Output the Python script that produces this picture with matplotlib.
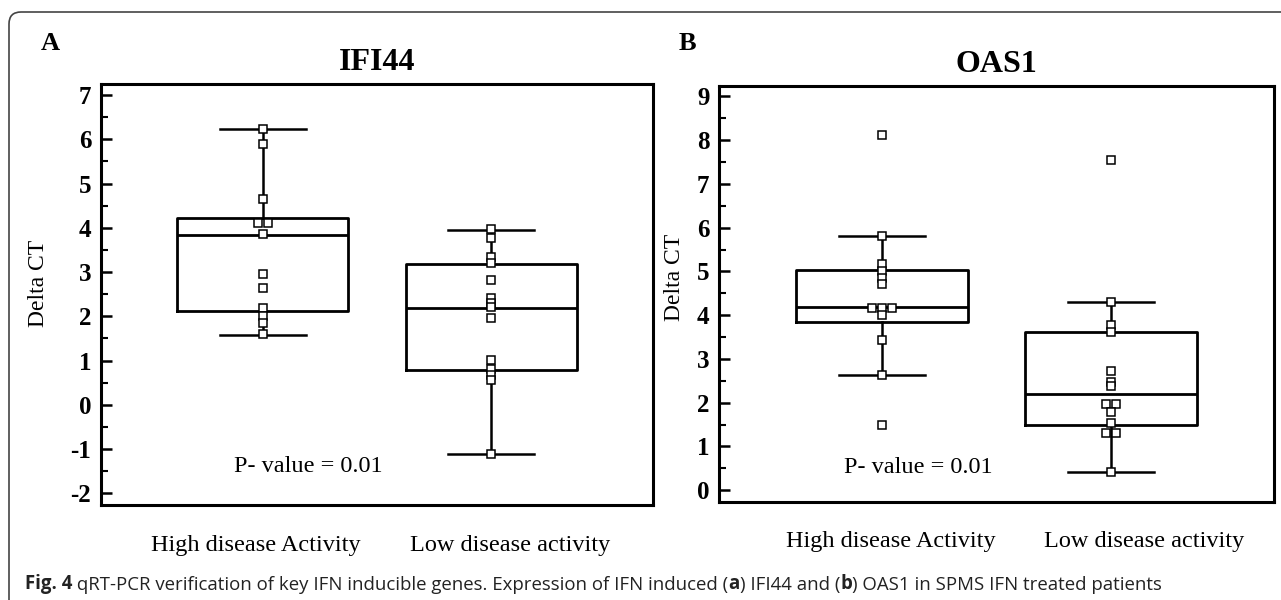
import numpy as np
import matplotlib
matplotlib.use("Agg")
import matplotlib.pyplot as plt
from matplotlib.ticker import MultipleLocator
from matplotlib.patches import FancyBboxPatch

plt.rcParams['font.family'] = ['Liberation Serif', 'DejaVu Serif']
plt.rcParams['axes.unicode_minus'] = False

# Data (Delta CT)
groups = ["High disease Activity", "Low disease activity"]

ifi44_high = [6.23, 5.90, 4.65, 4.10, 4.10, 3.87, 2.95, 2.65, 2.18, 2.00, 1.84, 1.60]
ifi44_low = [3.97, 3.77, 3.33, 3.20, 2.81, 2.42, 2.30, 2.20, 1.96, 1.02, 0.80, 0.68, 0.56, -1.12]
oas1_high = [8.13, 5.81, 5.18, 5.01, 4.86, 4.72, 4.16, 4.16, 4.16, 4.01, 3.43, 2.63, 1.49]
oas1_low = [7.54, 4.31, 3.78, 3.61, 2.73, 2.48, 2.38, 1.98, 1.98, 1.79, 1.53, 1.31, 1.31, 0.41]

# box summaries as drawn: (whislo, q1, median, q3, whishi)
ifi44_boxes = [(1.58, 2.13, 3.83, 4.22, 6.23), (-1.11, 0.79, 2.18, 3.19, 3.95)]
oas1_boxes = [(2.63, 3.85, 4.18, 5.04, 5.81), (0.41, 1.50, 2.20, 3.61, 4.31)]

p_value = "P- value = 0.01"


def spread(values, step=0.045):
    # put equal values side by side
    vals = np.asarray(values)
    offs = np.zeros(len(vals))
    for v in np.unique(vals):
        idx = np.where(vals == v)[0]
        offs[idx] = (np.arange(len(idx)) - (len(idx) - 1) / 2) * step
    return offs


def draw_panel(ax, boxes, points, title, ylim, label_x, label_y, ptext_xy, xlab_pos):
    stats = [dict(whislo=b[0], q1=b[1], med=b[2], q3=b[3], whishi=b[4], fliers=[])
             for b in boxes]
    line = dict(color='black', linewidth=2.0)
    ax.bxp(stats, positions=[1, 2], widths=0.75, showfliers=False,
           boxprops=line, whiskerprops=dict(color='black', linewidth=1.8),
           capprops=dict(color='black', linewidth=1.8), medianprops=line)
    for pos, vals in zip([1, 2], points):
        ax.plot(pos + spread(vals), vals, 's', ms=5.5, mfc='white', mec='black',
                mew=1.1, zorder=5)

    ax.set_xlim(0.29, 2.71)
    ax.set_ylim(*ylim)
    ax.set_xticks([])
    ax.yaxis.set_major_locator(MultipleLocator(1))
    ax.yaxis.set_minor_locator(MultipleLocator(0.5))
    ax.tick_params(axis='y', which='major', direction='in', length=8, width=1.8,
                   pad=7, labelsize=18)
    ax.tick_params(axis='y', which='minor', direction='in', length=5, width=1.5)
    for lab in ax.get_yticklabels():
        lab.set_fontweight('bold')
    for sp in ax.spines.values():
        sp.set_linewidth(2.2)

    ax.set_title(title, fontsize=23, fontweight='bold', pad=10)
    ax.set_ylabel("Delta CT", fontsize=17)
    ax.yaxis.set_label_coords(label_x, label_y)
    ax.text(ptext_xy[0], ptext_xy[1], p_value, fontsize=17.5, ha='center', va='center')
    for xp, g in zip(xlab_pos, groups):
        ax.text(xp, -0.095, g, fontsize=17.5, ha='center', va='center',
                transform=ax.transAxes)


fig = plt.figure(figsize=(12.81, 6.0), dpi=100)
axA = fig.add_axes([0.0788, 0.158, 0.4310, 0.702])
axB = fig.add_axes([0.5613, 0.1633, 0.4333, 0.6934])

draw_panel(axA, ifi44_boxes, [ifi44_high, ifi44_low], "IFI44", (-2.27, 7.25),
           -0.094, 0.527, (1.20, -1.40), (0.281, 0.741))
draw_panel(axB, oas1_boxes, [oas1_high, oas1_low], "OAS1", (-0.27, 9.24),
           -0.061, 0.54, (1.16, 0.53), (0.310, 0.766))

# panel letters
fig.text(41 / 1281, 1 - 50 / 600, "A", fontsize=19, fontweight='bold', ha='left', va='baseline')
fig.text(679 / 1281, 1 - 50 / 600, "B", fontsize=19, fontweight='bold', ha='left', va='baseline')

# rounded frame around the figure, running off the right and bottom edges
frame = FancyBboxPatch((0.09, -0.5), 13.0, 6.38, boxstyle="round,pad=0,rounding_size=0.12",
                       transform=fig.dpi_scale_trans, fill=False, edgecolor='#444444',
                       linewidth=1.2)
fig.add_artist(frame)

# caption, in pieces so a few words can be bold
overlay = fig.add_axes([0, 0, 1, 1])
overlay.axis('off')
overlay.set_zorder(-1)
pieces = [("Fig. 4", 'bold'),
          (" qRT-PCR verification of key IFN inducible genes. Expression of IFN induced (", 'normal'),
          ("a", 'bold'), (") IFI44 and (", 'normal'), ("b", 'bold'),
          (") OAS1 in SPMS IFN treated patients", 'normal')]
cap_font = dict(family=['Open Sans', 'DejaVu Sans'], size=13.4, color='#222222')
prev = overlay.text(25 / 1281, 1 - 594 / 600, pieces[0][0], fontweight=pieces[0][1],
                    ha='left', va='bottom', transform=overlay.transAxes, **cap_font)
for txt, weight in pieces[1:]:
    prev = overlay.annotate(txt, xy=(1, 0), xycoords=prev, ha='left', va='bottom',
                            fontweight=weight, **cap_font)

fig.savefig("out.png", dpi=100)
